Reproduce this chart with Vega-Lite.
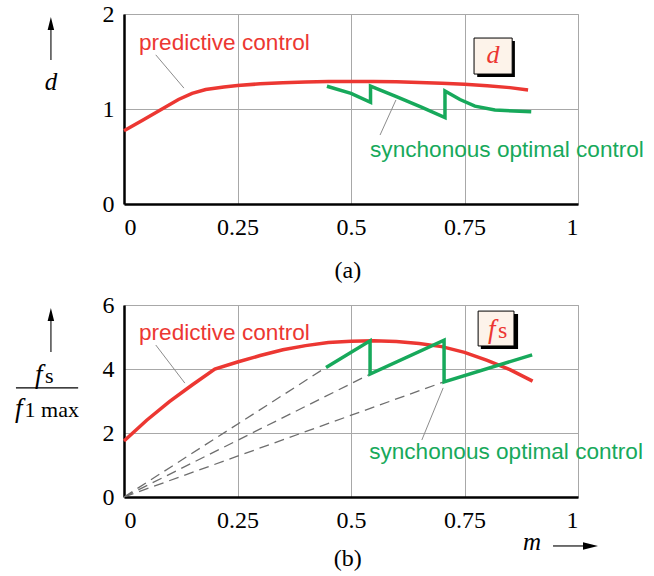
{
  "$schema": "https://vega.github.io/schema/vega-lite/v6.json",
  "padding": {"left": 14, "top": 1, "right": 4, "bottom": 4},
  "background": "white",
  "bounds": "flush",
  "spacing": 101,
  "config": {
    "view": {"stroke": "#a8a8a8", "strokeWidth": 1},
    "axis": {"domainColor": "black", "domainWidth": 2.5, "ticks": false, "gridColor": "#a8a8a8", "gridWidth": 1, "labelFont": "Liberation Serif", "labelFontSize": 24, "labelColor": "black", "title": null},
    "axisX": {"labelPadding": 11},
    "axisY": {"labelPadding": 10}
  },
  "vconcat": [
    {
      "width": 454,
      "height": 190,
      "encoding": {
        "x": {"field": "m", "type": "quantitative", "scale": {"domain": [0, 1]}, "axis": {"values": [0, 0.25, 0.5, 0.75, 1], "format": ".2~f"}},
        "y": {"field": "v", "type": "quantitative", "scale": {"domain": [0, 2]}, "axis": {"values": [0, 1, 2], "format": ".2~f"}}
      },
      "layer": [
        {
          "data": {"values": [
            {"series": "predictive control", "i": 0, "m": 0, "v": 0.77},
            {"series": "predictive control", "i": 1, "m": 0.04, "v": 0.88},
            {"series": "predictive control", "i": 2, "m": 0.08, "v": 0.99},
            {"series": "predictive control", "i": 3, "m": 0.12, "v": 1.1},
            {"series": "predictive control", "i": 4, "m": 0.15, "v": 1.165},
            {"series": "predictive control", "i": 5, "m": 0.18, "v": 1.205},
            {"series": "predictive control", "i": 6, "m": 0.22, "v": 1.232},
            {"series": "predictive control", "i": 7, "m": 0.25, "v": 1.248},
            {"series": "predictive control", "i": 8, "m": 0.3, "v": 1.265},
            {"series": "predictive control", "i": 9, "m": 0.35, "v": 1.277},
            {"series": "predictive control", "i": 10, "m": 0.4, "v": 1.285},
            {"series": "predictive control", "i": 11, "m": 0.45, "v": 1.29},
            {"series": "predictive control", "i": 12, "m": 0.5, "v": 1.29},
            {"series": "predictive control", "i": 13, "m": 0.55, "v": 1.29},
            {"series": "predictive control", "i": 14, "m": 0.6, "v": 1.286},
            {"series": "predictive control", "i": 15, "m": 0.65, "v": 1.28},
            {"series": "predictive control", "i": 16, "m": 0.7, "v": 1.27},
            {"series": "predictive control", "i": 17, "m": 0.75, "v": 1.26},
            {"series": "predictive control", "i": 18, "m": 0.8, "v": 1.245},
            {"series": "predictive control", "i": 19, "m": 0.85, "v": 1.225},
            {"series": "predictive control", "i": 20, "m": 0.89, "v": 1.2},
            {"series": "synchonous optimal control", "i": 0, "m": 0.447, "v": 1.24},
            {"series": "synchonous optimal control", "i": 1, "m": 0.5, "v": 1.165},
            {"series": "synchonous optimal control", "i": 2, "m": 0.543, "v": 1.07},
            {"series": "synchonous optimal control", "i": 3, "m": 0.543, "v": 1.24},
            {"series": "synchonous optimal control", "i": 4, "m": 0.6, "v": 1.13},
            {"series": "synchonous optimal control", "i": 5, "m": 0.655, "v": 1.02},
            {"series": "synchonous optimal control", "i": 6, "m": 0.707, "v": 0.91},
            {"series": "synchonous optimal control", "i": 7, "m": 0.707, "v": 1.19},
            {"series": "synchonous optimal control", "i": 8, "m": 0.74, "v": 1.1},
            {"series": "synchonous optimal control", "i": 9, "m": 0.773, "v": 1.03},
            {"series": "synchonous optimal control", "i": 10, "m": 0.817, "v": 0.99},
            {"series": "synchonous optimal control", "i": 11, "m": 0.897, "v": 0.97}
          ]},
          "mark": {"type": "line", "strokeWidth": 3.5},
          "encoding": {
            "color": {"field": "series", "type": "nominal", "scale": {"domain": ["predictive control", "synchonous optimal control"], "range": ["#ec3732", "#17a95b"]}, "legend": null},
            "order": {"field": "i", "type": "quantitative"}
          }
        },
        {
          "data": {"values": [
            {"m": 0.07, "v": 1.57, "m2": 0.132, "v2": 1.22},
            {"m": 0.564, "v": 0.726, "m2": 0.599, "v2": 1.095}
          ]},
          "mark": {"type": "rule", "color": "#8c8c8c", "strokeWidth": 1},
          "encoding": {"x2": {"field": "m2"}, "y2": {"field": "v2"}}
        },
        {
          "data": {"values": [{"m": 0.033, "v": 1.621, "label": "predictive control"}]},
          "mark": {"type": "text", "align": "left", "baseline": "alphabetic", "font": "Liberation Sans", "fontSize": 22.6, "color": "#ec3732"},
          "encoding": {"text": {"field": "label"}}
        },
        {
          "data": {"values": [{"m": 0.542, "v": 0.495, "label": "synchonous optimal control"}]},
          "mark": {"type": "text", "align": "left", "baseline": "alphabetic", "font": "Liberation Sans", "fontSize": 22.6, "color": "#17a95b"},
          "encoding": {"text": {"field": "label"}}
        },
        {
          "data": {"values": [{"m": 0.778, "v": 1.716, "m2": 0.861, "v2": 1.337}]},
          "mark": {"type": "rect", "color": "black"},
          "encoding": {"x2": {"field": "m2"}, "y2": {"field": "v2"}}
        },
        {
          "data": {"values": [{"m": 0.771, "v": 1.747, "m2": 0.855, "v2": 1.368}]},
          "mark": {"type": "rect", "fill": "#fdf3ea", "stroke": "black", "strokeWidth": 1},
          "encoding": {"x2": {"field": "m2"}, "y2": {"field": "v2"}}
        },
        {
          "data": {"values": [{"m": 0.813, "v": 1.484, "label": "d"}]},
          "mark": {"type": "text", "align": "center", "baseline": "alphabetic", "font": "Liberation Serif", "fontStyle": "italic", "fontSize": 26, "color": "#ec3732"},
          "encoding": {"text": {"field": "label"}}
        },
        {
          "data": {"values": [{"m": -0.161, "v": 1.2, "label": "d"}]},
          "mark": {"type": "text", "align": "center", "baseline": "alphabetic", "font": "Liberation Serif", "fontStyle": "italic", "fontSize": 25, "color": "black"},
          "encoding": {"text": {"field": "label"}}
        },
        {
          "data": {"values": [{"m": -0.161, "v": 1.516, "m2": -0.161, "v2": 1.84}]},
          "mark": {"type": "rule", "color": "#555555", "strokeWidth": 1.6},
          "encoding": {"x2": {"field": "m2"}, "y2": {"field": "v2"}}
        },
        {
          "data": {"values": [{"m": -0.161, "v": 1.832}]},
          "mark": {"type": "point", "shape": "M0,-1L0.25,0L-0.25,0Z", "size": 676, "filled": true, "color": "black", "opacity": 1}
        },
        {
          "data": {"values": [{"m": 0.493, "v": -0.78, "label": "(a)"}]},
          "mark": {"type": "text", "align": "center", "baseline": "alphabetic", "font": "Liberation Serif", "fontSize": 24, "color": "black"},
          "encoding": {"text": {"field": "label"}}
        }
      ]
    },
    {
      "width": 454,
      "height": 192,
      "encoding": {
        "x": {"field": "m", "type": "quantitative", "scale": {"domain": [0, 1]}, "axis": {"values": [0, 0.25, 0.5, 0.75, 1], "format": ".2~f"}},
        "y": {"field": "v", "type": "quantitative", "scale": {"domain": [0, 6]}, "axis": {"values": [0, 2, 4, 6], "format": ".2~f"}}
      },
      "layer": [
        {
          "data": {"values": [
            {"k": "a", "m": 0, "v": 0},
            {"k": "a", "m": 0.445, "v": 4.05},
            {"k": "b", "m": 0, "v": 0},
            {"k": "b", "m": 0.542, "v": 3.84},
            {"k": "c", "m": 0, "v": 0},
            {"k": "c", "m": 0.705, "v": 3.6}
          ]},
          "mark": {"type": "line", "color": "#6e6e6e", "strokeWidth": 1.3, "strokeDash": [10, 6]},
          "encoding": {"detail": {"field": "k", "type": "nominal"}}
        },
        {
          "data": {"values": [
            {"series": "predictive control", "i": 0, "m": 0, "v": 1.75},
            {"series": "predictive control", "i": 1, "m": 0.05, "v": 2.4},
            {"series": "predictive control", "i": 2, "m": 0.1, "v": 2.98},
            {"series": "predictive control", "i": 3, "m": 0.15, "v": 3.5},
            {"series": "predictive control", "i": 4, "m": 0.2, "v": 4.0},
            {"series": "predictive control", "i": 5, "m": 0.25, "v": 4.22},
            {"series": "predictive control", "i": 6, "m": 0.3, "v": 4.42},
            {"series": "predictive control", "i": 7, "m": 0.35, "v": 4.6},
            {"series": "predictive control", "i": 8, "m": 0.4, "v": 4.73},
            {"series": "predictive control", "i": 9, "m": 0.45, "v": 4.83},
            {"series": "predictive control", "i": 10, "m": 0.5, "v": 4.87},
            {"series": "predictive control", "i": 11, "m": 0.55, "v": 4.88},
            {"series": "predictive control", "i": 12, "m": 0.6, "v": 4.86},
            {"series": "predictive control", "i": 13, "m": 0.65, "v": 4.8},
            {"series": "predictive control", "i": 14, "m": 0.7, "v": 4.7},
            {"series": "predictive control", "i": 15, "m": 0.75, "v": 4.52},
            {"series": "predictive control", "i": 16, "m": 0.8, "v": 4.27},
            {"series": "predictive control", "i": 17, "m": 0.85, "v": 3.98},
            {"series": "predictive control", "i": 18, "m": 0.9, "v": 3.62},
            {"series": "synchonous optimal control", "i": 0, "m": 0.445, "v": 4.05},
            {"series": "synchonous optimal control", "i": 1, "m": 0.542, "v": 4.88},
            {"series": "synchonous optimal control", "i": 2, "m": 0.542, "v": 3.84},
            {"series": "synchonous optimal control", "i": 3, "m": 0.705, "v": 4.9},
            {"series": "synchonous optimal control", "i": 4, "m": 0.705, "v": 3.6},
            {"series": "synchonous optimal control", "i": 5, "m": 0.899, "v": 4.44}
          ]},
          "mark": {"type": "line", "strokeWidth": 3.5},
          "encoding": {
            "color": {"field": "series", "type": "nominal", "scale": {"domain": ["predictive control", "synchonous optimal control"], "range": ["#ec3732", "#17a95b"]}, "legend": null},
            "order": {"field": "i", "type": "quantitative"}
          }
        },
        {
          "data": {"values": [
            {"m": 0.07, "v": 4.75, "m2": 0.134, "v2": 3.56},
            {"m": 0.656, "v": 1.78, "m2": 0.703, "v2": 3.41}
          ]},
          "mark": {"type": "rule", "color": "#8c8c8c", "strokeWidth": 1},
          "encoding": {"x2": {"field": "m2"}, "y2": {"field": "v2"}}
        },
        {
          "data": {"values": [{"m": 0.033, "v": 4.906, "label": "predictive control"}]},
          "mark": {"type": "text", "align": "left", "baseline": "alphabetic", "font": "Liberation Sans", "fontSize": 22.6, "color": "#ec3732"},
          "encoding": {"text": {"field": "label"}}
        },
        {
          "data": {"values": [{"m": 0.54, "v": 1.19, "label": "synchonous optimal control"}]},
          "mark": {"type": "text", "align": "left", "baseline": "alphabetic", "font": "Liberation Sans", "fontSize": 22.6, "color": "#17a95b"},
          "encoding": {"text": {"field": "label"}}
        },
        {
          "data": {"values": [{"m": 0.786, "v": 5.72, "m2": 0.868, "v2": 4.625}]},
          "mark": {"type": "rect", "color": "black"},
          "encoding": {"x2": {"field": "m2"}, "y2": {"field": "v2"}}
        },
        {
          "data": {"values": [{"m": 0.78, "v": 5.81, "m2": 0.859, "v2": 4.72}]},
          "mark": {"type": "rect", "fill": "#fdf3ea", "stroke": "black", "strokeWidth": 1},
          "encoding": {"x2": {"field": "m2"}, "y2": {"field": "v2"}}
        },
        {
          "data": {"values": [{"m": 0.81, "v": 4.97, "label": "f"}]},
          "mark": {"type": "text", "align": "center", "baseline": "alphabetic", "font": "Liberation Serif", "fontStyle": "italic", "fontSize": 27, "color": "#ec3732"},
          "encoding": {"text": {"field": "label"}}
        },
        {
          "data": {"values": [{"m": 0.824, "v": 4.97, "label": "s"}]},
          "mark": {"type": "text", "align": "left", "baseline": "alphabetic", "font": "Liberation Serif", "fontSize": 24, "color": "#ec3732"},
          "encoding": {"text": {"field": "label"}}
        },
        {
          "data": {"values": [{"m": -0.161, "v": 4.53, "m2": -0.161, "v2": 5.52}]},
          "mark": {"type": "rule", "color": "#555555", "strokeWidth": 1.6},
          "encoding": {"x2": {"field": "m2"}, "y2": {"field": "v2"}}
        },
        {
          "data": {"values": [{"m": -0.161, "v": 5.5}]},
          "mark": {"type": "point", "shape": "M0,-1L0.25,0L-0.25,0Z", "size": 676, "filled": true, "color": "black", "opacity": 1}
        },
        {
          "data": {"values": [{"m": -0.196, "v": 3.56, "label": "f"}, {"m": -0.24, "v": 2.5, "label": "f"}]},
          "mark": {"type": "text", "align": "left", "baseline": "alphabetic", "font": "Liberation Serif", "fontStyle": "italic", "fontSize": 27, "color": "black"},
          "encoding": {"text": {"field": "label"}}
        },
        {
          "data": {"values": [{"m": -0.174, "v": 3.56, "label": "s"}, {"m": -0.219, "v": 2.5, "label": "1 max"}]},
          "mark": {"type": "text", "align": "left", "baseline": "alphabetic", "font": "Liberation Serif", "fontSize": 22, "color": "black"},
          "encoding": {"text": {"field": "label"}}
        },
        {
          "data": {"values": [{"m": -0.238, "v": 3.41, "m2": -0.101, "v2": 3.41}]},
          "mark": {"type": "rule", "color": "black", "strokeWidth": 1.4},
          "encoding": {"x2": {"field": "m2"}, "y2": {"field": "v2"}}
        },
        {
          "data": {"values": [{"m": 0.899, "v": -1.66, "label": "m"}]},
          "mark": {"type": "text", "align": "center", "baseline": "alphabetic", "font": "Liberation Serif", "fontStyle": "italic", "fontSize": 25, "color": "black"},
          "encoding": {"text": {"field": "label"}}
        },
        {
          "data": {"values": [{"m": 0.945, "v": -1.53, "m2": 1.013, "v2": -1.53}]},
          "mark": {"type": "rule", "color": "#333333", "strokeWidth": 1.4},
          "encoding": {"x2": {"field": "m2"}, "y2": {"field": "v2"}}
        },
        {
          "data": {"values": [{"m": 1.011, "v": -1.53}]},
          "mark": {"type": "point", "shape": "M1,0L0,-0.25L0,0.25Z", "size": 900, "filled": true, "color": "black", "opacity": 1}
        },
        {
          "data": {"values": [{"m": 0.493, "v": -2.16, "label": "(b)"}]},
          "mark": {"type": "text", "align": "center", "baseline": "alphabetic", "font": "Liberation Serif", "fontSize": 24, "color": "black"},
          "encoding": {"text": {"field": "label"}}
        }
      ]
    }
  ]
}
